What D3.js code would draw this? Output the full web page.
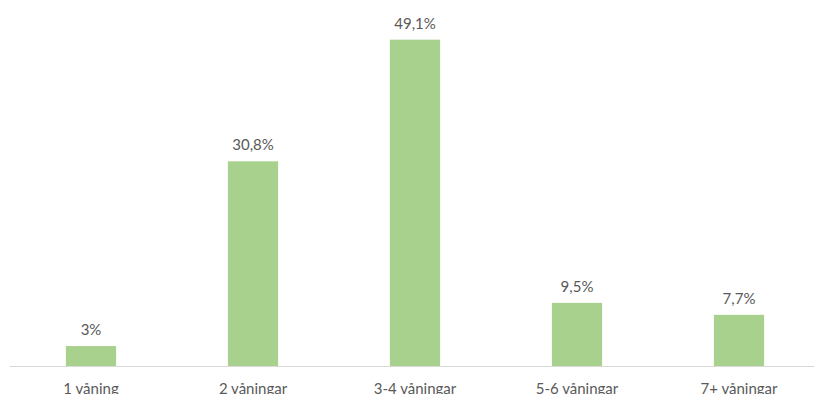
<!DOCTYPE html>
<html>
<head>
<meta charset="utf-8">
<script src="https://cdn.jsdelivr.net/npm/d3@7"></script>
<style>
  html, body { margin: 0; padding: 0; background: #fff; }
  svg { display: block; }
</style>
</head>
<body>
<svg id="chart" width="814" height="394"></svg>
<script>
const categories = ["1 våning", "2 våningar", "3-4 våningar", "5-6 våningar", "7+ våningar"];
const values = [3, 30.8, 49.1, 9.5, 7.7];
const valueLabels = ["3%", "30,8%", "49,1%", "9,5%", "7,7%"];

const svg = d3.select("#chart");
const W = 814, H = 394;
const baseline = 366;

const x = d3.scaleBand()
  .domain(categories)
  .range([10, 820])
  .paddingInner(0.69)
  .paddingOuter(0.345);

const y = d3.scaleLinear()
  .domain([0, 50])
  .range([baseline, 33.7]);

const data = categories.map((c, i) => ({ c, v: values[i], label: valueLabels[i] }));

svg.append("g").selectAll("rect")
  .data(data)
  .join("rect")
  .attr("x", d => x(d.c))
  .attr("y", d => y(d.v))
  .attr("width", x.bandwidth())
  .attr("height", d => baseline - y(d.v))
  .attr("fill", "#a9d18e");

svg.append("line")
  .attr("x1", 10).attr("x2", W)
  .attr("y1", baseline + 0.5).attr("y2", baseline + 0.5)
  .attr("stroke", "#d9d9d9")
  .attr("stroke-width", 1);

svg.append("g").selectAll("text")
  .data(data)
  .join("text")
  .attr("x", d => x(d.c) + x.bandwidth() / 2)
  .attr("y", d => y(d.v) - 11)
  .attr("text-anchor", "middle")
  .attr("font-family", "Lato, 'Open Sans', sans-serif")
  .attr("font-size", 15)
  .attr("fill", "#595959")
  .text(d => d.label);

const xAxis = d3.axisBottom(x).tickSize(0).tickPadding(0);
const gx = svg.append("g")
  .attr("transform", `translate(0, ${baseline})`)
  .call(xAxis);
gx.select(".domain").remove();
gx.selectAll("text")
  .attr("dy", null)
  .attr("y", 28)
  .attr("font-family", "Lato, 'Open Sans', sans-serif")
  .attr("font-size", 15)
  .attr("fill", "#595959");
</script>
</body>
</html>
